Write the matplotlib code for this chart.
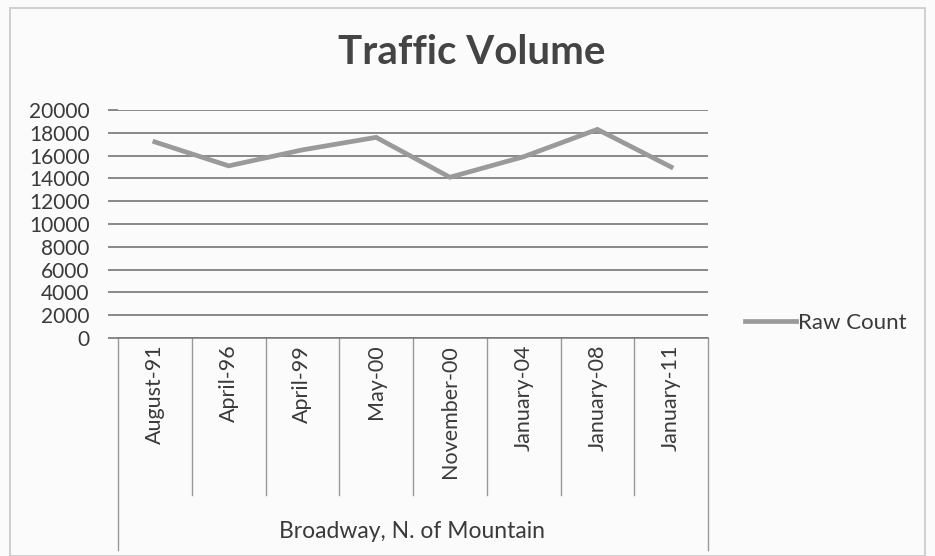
import numpy as np
import matplotlib
matplotlib.use('Agg')
import matplotlib.pyplot as plt
from matplotlib.patches import Rectangle

# categories and counts
dates = ["August-91", "April-96", "April-99", "May-00",
         "November-00", "January-04", "January-08", "January-11"]
raw_count = [17200, 15100, 16500, 17600, 14100, 15900, 18300, 15000]
y_ticks = list(range(0, 20001, 2000))
group_label = "Broadway, N. of Mountain"

plt.rcParams['font.family'] = ['Lato', 'DejaVu Sans']
W, H = 935, 556
fig = plt.figure(figsize=(W / 100, H / 100), dpi=100)
fig.patch.set_facecolor('#fbfbfb')

# outer chart frame
fig.patches.append(Rectangle((10 / W, 0), (W - 20) / W, 1 - 8 / H,
                             transform=fig.transFigure, fill=False,
                             edgecolor='#c8c8c8', lw=1.2))

left, right, top, bottom = 118, 708, 110, 338
ax = fig.add_axes([left / W, 1 - bottom / H, (right - left) / W, (bottom - top) / H])
ax.set_facecolor('none')

x = np.arange(len(dates)) + 0.5
ax.plot(x, raw_count, color='#9a9a9a', lw=3.4, label='Raw Count',
        solid_joinstyle='miter')

ax.set_xlim(0, len(dates))
ax.set_ylim(0, 20000)
ax.set_yticks(y_ticks)
ax.set_yticklabels([str(v) for v in y_ticks], fontsize=15, color='#3a3a3a')
ax.tick_params(axis='y', length=7.5, width=1.1, color='#6a6a6a', pad=13)
ax.yaxis.grid(True, color='#6a6a6a', lw=1.1)
ax.set_axisbelow(True)
for s in ['top', 'right', 'left']:
    ax.spines[s].set_visible(False)
ax.spines['bottom'].set_color('#777777')
ax.spines['bottom'].set_linewidth(1.1)

# category labels and multi-level separators
ax.set_xticks([])
trans = ax.get_xaxis_transform()
for i, d in enumerate(dates):
    ax.text(i + 0.5, -0.03, d, transform=trans, rotation=90, ha='center', va='top',
            fontsize=15.5, color='#3a3a3a')
for i in range(len(dates) + 1):
    y_end = -0.93 if i in (0, len(dates)) else -0.69
    ax.plot([i, i], [0, y_end], transform=trans, clip_on=False, color='#9a9a9a', lw=1)
fig.text(412 / W, 1 - 538 / H, group_label, ha='center', va='baseline',
         fontsize=16.5, color='#3a3a3a')

fig.text(472 / W, 1 - 64 / H, "Traffic Volume", ha='center', va='baseline',
         fontsize=29, fontweight='bold', color='#444444')

fig.legend(loc='center left', bbox_to_anchor=(745 / W, 1 - 323 / H), frameon=False,
           fontsize=16, handlelength=2.3, handletextpad=0.1, borderpad=0,
           borderaxespad=0, labelcolor='#3a3a3a')

fig.savefig('out.png', dpi=100, facecolor=fig.get_facecolor())
